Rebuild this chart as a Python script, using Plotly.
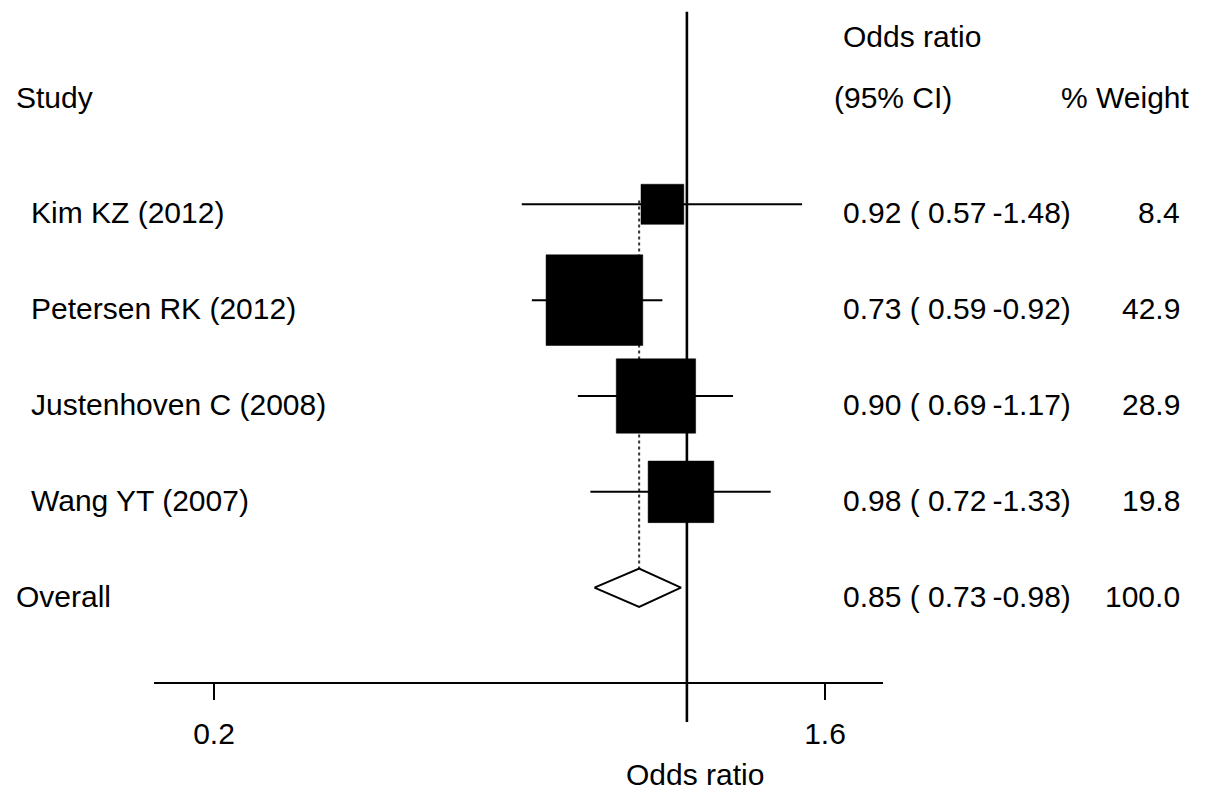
import math
import plotly.graph_objects as go

# ---- data ----
studies = ["Kim KZ (2012)", "Petersen RK (2012)", "Justenhoven C (2008)", "Wang YT (2007)"]
odds_ratio = [0.92, 0.73, 0.90, 0.98]
ci_low = [0.57, 0.59, 0.69, 0.72]
ci_high = [1.48, 0.92, 1.17, 1.33]
weights = [8.4, 42.9, 28.9, 19.8]

overall_label = "Overall"
overall_or = 0.85
overall_low = 0.73
overall_high = 0.98
overall_weight = 100.0

tick_values = [0.2, 1.6]
tick_labels = ["0.2", "1.6"]

# ---- layout constants ----
W, H = 1205, 801
FONT = "Liberation Sans, Arial, sans-serif"
FS = 30
BOX_HW = 0.02513      # box half-width (ln units) per sqrt(weight)
BOX_HH = 0.0722       # box half-height (row units) per sqrt(weight)
DIAMOND_HH = 0.20
TEXT_DY = 0.09        # text sits slightly below the row line

rows = list(range(len(studies)))
overall_row = len(studies)

fig = go.Figure()

# null line at OR = 1
fig.add_trace(go.Scatter(x=[1, 1], y=[-2.01, 5.40], mode="lines",
                         line=dict(color="black", width=2.6), hoverinfo="skip"))

# dotted line at overall estimate
fig.add_trace(go.Scatter(x=[overall_or, overall_or], y=[-0.04, overall_row], mode="lines",
                         line=dict(color="#333333", width=2, dash="3px,3px"), hoverinfo="skip"))

# confidence interval lines
cx, cy = [], []
for r, lo, hi in zip(rows, ci_low, ci_high):
    cx += [lo, hi, None]
    cy += [r, r, None]
fig.add_trace(go.Scatter(x=cx, y=cy, mode="lines",
                         line=dict(color="black", width=2), hoverinfo="skip"))

# weight boxes
bx, by = [], []
for r, est, w in zip(rows, odds_ratio, weights):
    hw = BOX_HW * math.sqrt(w)
    hh = BOX_HH * math.sqrt(w)
    x0, x1 = est * math.exp(-hw), est * math.exp(hw)
    bx += [x0, x1, x1, x0, x0, None]
    by += [r - hh, r - hh, r + hh, r + hh, r - hh, None]
fig.add_trace(go.Scatter(x=bx, y=by, mode="lines", fill="toself", fillcolor="black",
                         line=dict(color="black", width=0.5), hoverinfo="skip"))

# overall diamond
fig.add_trace(go.Scatter(
    x=[overall_low, overall_or, overall_high, overall_or, overall_low],
    y=[overall_row, overall_row - DIAMOND_HH, overall_row, overall_row + DIAMOND_HH, overall_row],
    mode="lines", fill="toself", fillcolor="white",
    line=dict(color="black", width=2), hoverinfo="skip"))

annotations = []

def txt(text, x_px, row, anchor="left"):
    annotations.append(dict(text=text, xref="paper", yref="y", x=x_px / W, y=row,
                            xanchor=anchor, yanchor="middle", showarrow=False,
                            font=dict(family=FONT, size=FS, color="black")))

def ci_text(est, lo, hi):
    return f"{est:.2f} ( {lo:.2f}\u2009-{hi:.2f})"

# headers
txt("Study", 14, -1.112)
txt("Odds ratio", 841, -1.749)
txt("(95% CI)", 832, -1.112)
txt("% Weight", 1192, -1.112, anchor="right")

# study rows
for r, name, est, lo, hi, w in zip(rows, studies, odds_ratio, ci_low, ci_high, weights):
    txt(name, 29, r + TEXT_DY)
    txt(ci_text(est, lo, hi), 841, r + TEXT_DY)
    txt(f"{w:.1f}", 1182, r + TEXT_DY, anchor="right")

# overall row
txt(overall_label, 14, overall_row + TEXT_DY)
txt(ci_text(overall_or, overall_low, overall_high), 841, overall_row + TEXT_DY)
txt(f"{overall_weight:.1f}", 1182, overall_row + TEXT_DY, anchor="right")

# axis title
annotations.append(dict(text="Odds ratio", xref="paper", yref="paper", x=695.5 / W,
                        y=1 - 774 / H, xanchor="center", yanchor="middle", showarrow=False,
                        font=dict(family=FONT, size=FS, color="black")))

x_lo_px, x_hi_px = 154, 883.3
px_per_ln = (825 - 214) / (math.log(1.6) - math.log(0.2))
ln_lo = math.log(0.2) + (x_lo_px - 214) / px_per_ln
ln_hi = math.log(0.2) + (x_hi_px - 214) / px_per_ln

row_spacing = 95.85
row0_px = 204.3
y_top = (0 - row0_px) / row_spacing
y_bot = (H - row0_px) / row_spacing

fig.update_layout(
    width=W, height=H,
    margin=dict(l=0, r=0, t=0, b=0),
    paper_bgcolor="white", plot_bgcolor="white",
    showlegend=False,
    annotations=annotations,
    xaxis=dict(
        type="log",
        domain=[x_lo_px / W, x_hi_px / W],
        range=[ln_lo / math.log(10), ln_hi / math.log(10)],
        anchor="free", position=1 - 683.3 / H,
        showline=True, linecolor="black", linewidth=2,
        ticks="outside", ticklen=16, tickwidth=2, tickcolor="black",
        tickvals=tick_values, ticktext=tick_labels,
        ticklabelstandoff=8,
        tickfont=dict(family=FONT, size=FS, color="black"),
        showgrid=False, zeroline=False,
    ),
    yaxis=dict(
        domain=[0, 1], range=[y_bot, y_top],
        visible=False, showgrid=False, zeroline=False,
    ),
)

fig.write_html("out.html", config={"displayModeBar": False},
               post_script="document.body.style.margin='0';document.body.style.overflow='hidden';")
